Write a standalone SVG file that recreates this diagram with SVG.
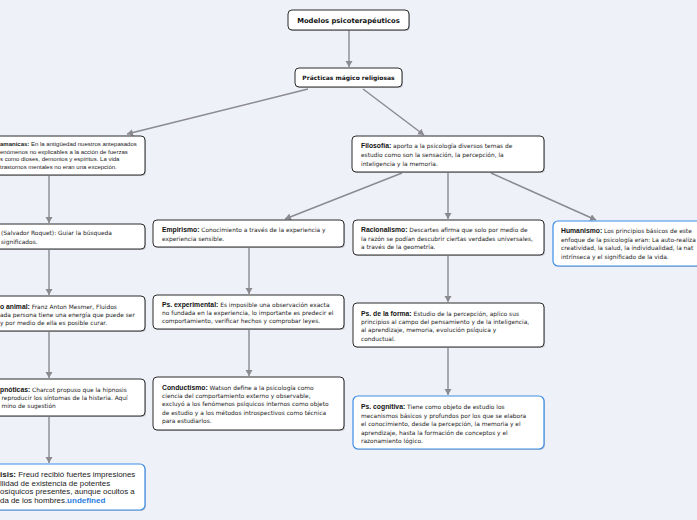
<svg xmlns="http://www.w3.org/2000/svg" width="697" height="520" viewBox="0 0 697 520">
<style>
.bg{fill:#eff1f9}
.box{fill:#fff;stroke:#2b2b2b;stroke-width:1}
.blue{fill:#fff;stroke:#3b8de6;stroke-width:1.2}
.sh{fill:#9a9aa6;opacity:.55}
.t{font-family:"DejaVu Sans",Verdana,sans-serif;font-size:5.9px;fill:#222}
.b{font-family:"Liberation Sans",Arial,sans-serif;font-weight:bold;font-size:6.8px;fill:#111}
.hd{font-family:"DejaVu Sans",Verdana,sans-serif;font-weight:bold;fill:#111;text-anchor:middle}
.big{font-family:"Liberation Sans",Arial,sans-serif;font-size:7.9px;fill:#222}
.bigb{font-weight:bold;font-size:8px}
.sm{font-family:"Liberation Sans",Arial,sans-serif;font-size:6px;fill:#222}
.c line{stroke:#8a8a8f;stroke-width:1.4;fill:none}
</style>
<defs>
<marker id="ah" markerUnits="userSpaceOnUse" markerWidth="8" markerHeight="8" refX="6" refY="3.5" orient="auto">
<path d="M0,0 L6,3.5 L0,7 Z" fill="#8a8a8f"/>
</marker>
</defs>
<rect class="bg" x="0" y="0" width="697" height="520"/>

<g id="connectors" class="c">
<line x1="349" y1="30" x2="349" y2="67" marker-end="url(#ah)"/>
<line x1="308" y1="89" x2="127" y2="134" marker-end="url(#ah)"/>
<line x1="363" y1="89" x2="424" y2="135" marker-end="url(#ah)"/>
<line x1="402" y1="173" x2="285" y2="219" marker-end="url(#ah)"/>
<line x1="448" y1="173" x2="448" y2="219" marker-end="url(#ah)"/>
<line x1="491" y1="173" x2="596" y2="220" marker-end="url(#ah)"/>
<line x1="249" y1="248" x2="249" y2="294" marker-end="url(#ah)"/>
<line x1="249" y1="330" x2="249" y2="376" marker-end="url(#ah)"/>
<line x1="448" y1="256" x2="448" y2="302" marker-end="url(#ah)"/>
<line x1="448" y1="348" x2="448" y2="395" marker-end="url(#ah)"/>
<line x1="49" y1="176" x2="49" y2="223" marker-end="url(#ah)"/>
<line x1="49" y1="250" x2="49" y2="295" marker-end="url(#ah)"/>
<line x1="49" y1="332" x2="49" y2="378" marker-end="url(#ah)"/>
<line x1="49" y1="417" x2="49" y2="463" marker-end="url(#ah)"/>
</g>

<g id="n-modelos">
<rect class="sh" x="289" y="11" width="121" height="20" rx="4"/>
<rect class="box" x="288" y="10" width="121" height="20" rx="4"/>
<text class="hd" x="348.5" y="22.5" font-size="6.8">Modelos psicoterapéuticos</text>
</g>

<g id="n-practicas">
<rect class="sh" x="296" y="69" width="107" height="19" rx="4"/>
<rect class="box" x="295" y="68" width="107" height="19" rx="4"/>
<text class="hd" x="348.5" y="80" font-size="6">Prácticas mágico religiosas</text>
</g>

<g id="n-chamanicas">
<rect class="sh" x="-49" y="137" width="195" height="39" rx="4"/>
<rect class="box" x="-50" y="136" width="195" height="39" rx="4"/>
<text class="sm" x="0" y="146"><tspan font-weight="bold">amanicas:</tspan> En la antigüedad nuestros antepasados</text>
<text class="sm" x="0" y="153.5">enómenos no explicables a la acción de fuerzas</text>
<text class="sm" x="0" y="161">s como dioses, demonios y espíritus. La vida</text>
<text class="sm" x="0" y="168.5">trastornos mentales no eran una excepción.</text>
</g>

<g id="n-roquet">
<rect class="sh" x="-49" y="225" width="195" height="25" rx="4"/>
<rect class="box" x="-50" y="224" width="195" height="25" rx="4"/>
<text class="t" x="1" y="235">(Salvador Roquet): Guiar la búsqueda</text>
<text class="t" x="1" y="243.5">significados.</text>
</g>

<g id="n-magnetismo">
<rect class="sh" x="-49" y="297" width="195" height="35" rx="4"/>
<rect class="box" x="-50" y="296" width="195" height="35" rx="4"/>
<text class="t" x="0" y="309"><tspan class="b" font-size="6.8">o animal:</tspan> Franz Anton Mesmer, Fluidos</text>
<text class="t" x="0" y="317">ada persona tiene una energía que puede ser</text>
<text class="t" x="0" y="324.5">y por medio de ella es posible curar.</text>
</g>

<g id="n-hipnoticas">
<rect class="sh" x="-49" y="380" width="195" height="37" rx="4"/>
<rect class="box" x="-50" y="379" width="195" height="37" rx="4"/>
<text class="t" x="0" y="392"><tspan class="b" font-size="6.8">pnóticas:</tspan> Charcot propuso que la hipnosis</text>
<text class="t" x="1.5" y="400">reproducir los síntomas de la histeria. Aquí</text>
<text class="t" x="1.5" y="408">mino de sugestión</text>
</g>

<g id="n-psicoanalisis">
<rect class="sh" x="-49" y="465" width="195" height="46" rx="5"/>
<rect class="blue" x="-50" y="464" width="195" height="46" rx="5"/>
<text class="big" x="0" y="477"><tspan class="bigb">isis:</tspan> Freud recibió fuertes impresiones</text>
<text class="big" x="0" y="485.5">llidad de existencia de potentes</text>
<text class="big" x="0" y="494">osíquicos presentes, aunque ocultos a</text>
<text class="big" x="0" y="502.5">da de los hombres.<tspan class="bigb" fill="#2a7de0">undefined</tspan></text>
</g>

<g id="n-filosofia">
<rect class="sh" x="353" y="137" width="192" height="36" rx="4"/>
<rect class="box" x="352" y="136" width="192" height="36" rx="4"/>
<text class="t" x="361" y="148"><tspan class="b">Filosofía:</tspan> aporto a la psicología diversos temas de</text>
<text class="t" x="361" y="157">estudio como son la sensación, la percepción, la</text>
<text class="t" x="361" y="166">inteligencia y la memoria.</text>
</g>

<g id="n-empirismo">
<rect class="sh" x="154" y="221" width="191" height="27" rx="4"/>
<rect class="box" x="153" y="220" width="191" height="27" rx="4"/>
<text class="t" x="162" y="232"><tspan class="b">Empirismo:</tspan> Conocimiento a través de la experiencia y</text>
<text class="t" x="162" y="240.5">experiencia sensible.</text>
</g>

<g id="n-racionalismo">
<rect class="sh" x="354" y="221" width="191" height="35" rx="4"/>
<rect class="box" x="353" y="220" width="191" height="35" rx="4"/>
<text class="t" x="361" y="232"><tspan class="b">Racionalismo:</tspan> Descartes afirma que solo por medio de</text>
<text class="t" x="361" y="240.5">la razón se podían descubrir ciertas verdades universales,</text>
<text class="t" x="361" y="249">a través de la geometría.</text>
</g>

<g id="n-humanismo">
<rect class="sh" x="554" y="222" width="170" height="45" rx="5"/>
<rect class="blue" x="553" y="221" width="170" height="45" rx="5"/>
<text class="t" x="561" y="233"><tspan class="b">Humanismo:</tspan> Los principios básicos de este</text>
<text class="t" x="561" y="241.5">enfoque de la psicología eran: La auto-realiza</text>
<text class="t" x="561" y="250">creatividad, la salud, la individualidad, la nat</text>
<text class="t" x="561" y="258.5">intrínseca y el significado de la vida.</text>
</g>

<g id="n-experimental">
<rect class="sh" x="154" y="296" width="191" height="34" rx="4"/>
<rect class="box" x="153" y="295" width="191" height="34" rx="4"/>
<text class="t" x="162" y="306.5"><tspan class="b">Ps. experimental:</tspan> Es imposible una observación exacta</text>
<text class="t" x="162" y="314.5">no fundada en la experiencia, lo importante es predecir el</text>
<text class="t" x="162" y="322.5">comportamiento, verificar hechos y comprobar leyes.</text>
</g>

<g id="n-conductismo">
<rect class="sh" x="154" y="378" width="191" height="53" rx="4"/>
<rect class="box" x="153" y="377" width="191" height="53" rx="4"/>
<text class="t" x="162" y="389.5"><tspan class="b">Conductismo:</tspan> Watson define a la psicología como</text>
<text class="t" x="162" y="397.5">ciencia del comportamiento externo y observable,</text>
<text class="t" x="162" y="406">excluyó a los fenómenos psíquicos internos como objeto</text>
<text class="t" x="162" y="414.5">de estudio y a los métodos introspectivos como técnica</text>
<text class="t" x="162" y="423">para estudiarlos.</text>
</g>

<g id="n-forma">
<rect class="sh" x="354" y="304" width="191" height="44" rx="4"/>
<rect class="box" x="353" y="303" width="191" height="44" rx="4"/>
<text class="t" x="361" y="315.5"><tspan class="b">Ps. de la forma:</tspan> Estudio de la percepción, aplico sus</text>
<text class="t" x="361" y="324">principios al campo del pensamiento y de la inteligencia,</text>
<text class="t" x="361" y="332">al aprendizaje, memoria, evolución psíquica y</text>
<text class="t" x="361" y="340.5">conductual.</text>
</g>

<g id="n-cognitiva">
<rect class="sh" x="354" y="397" width="191" height="53" rx="5"/>
<rect class="blue" x="353" y="396" width="191" height="53" rx="5"/>
<text class="t" x="361" y="409"><tspan class="b" font-size="8.6">Ps. cognitiva:</tspan> Tiene como objeto de estudio los</text>
<text class="t" x="361" y="417.5">mecanismos básicos y profundos por los que se elabora</text>
<text class="t" x="361" y="426">el conocimiento, desde la percepción, la memoria y el</text>
<text class="t" x="361" y="434.5">aprendizaje, hasta la formación de conceptos y el</text>
<text class="t" x="361" y="443">razonamiento lógico.</text>
</g>
</svg>
